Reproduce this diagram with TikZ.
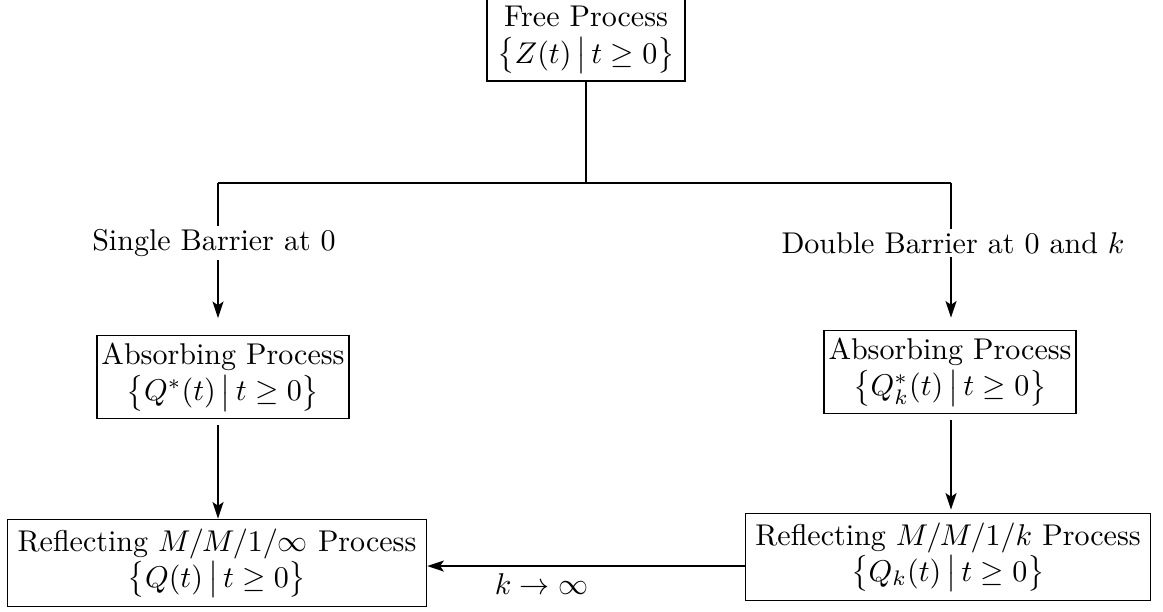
\documentclass[tikz,border=0pt]{standalone}
\usepackage{amssymb}
\usetikzlibrary{arrows.meta}
\begin{document}
\begin{tikzpicture}[x=0.333pt,y=-0.333pt,
		proc/.style={draw,align=center,line width=0.5pt,inner ysep=2.5pt},
		link/.style={line width=0.9pt},
		arr/.style={link,-{Stealth[length=5.5pt,width=3.6pt,inset=1.2pt]}},
		barrier/.style={fill=white,inner sep=1pt}]
	\useasboundingbox (0,0) rectangle (1163,611);
	% processes
	\node[proc] (free) at (586,40) {Free Process\\ $\bigl\{Z(t)\,\big|\,t\geq 0\bigr\}$};
	\node[proc,inner xsep=1.5pt] (absL) at (223,377) {Absorbing Process\\ $\bigl\{Q^*(t)\,\big|\,t\geq 0\bigr\}$};
	\node[proc,inner xsep=1.5pt] (absR) at (950,372) {Absorbing Process\\ $\bigl\{Q^*_k(t)\,\big|\,t\geq 0\bigr\}$};
	\node[proc,minimum height=29pt] (refL) at (217,563) {Reflecting $M/M/1/\infty$ Process\\ $\bigl\{Q(t)\,\big|\,t\geq 0\bigr\}$};
	\node[proc,minimum height=29pt] (refR) at (948,557) {Reflecting $M/M/1/k$ Process\\ $\bigl\{Q_k(t)\,\big|\,t\geq 0\bigr\}$};
	% branch
	\coordinate (cl) at (218,183);
	\coordinate (cr) at (951,183);
	\draw[link] (free.south) -- (free.south |- cl);
	\draw[link] (cl) -- (cr);
	\node[barrier] (lblL) at (214,243) {Single Barrier at $0$};
	\node[barrier] (lblR) at (953,243) {Double Barrier at $0$ and $k$};
	\draw[link] (cl) -- (cl |- lblL.north);
	\draw[link] (cr) -- (cr |- lblR.north);
	\draw[arr,shorten >=5.5pt] (cl |- lblL.south) -- (cl |- absL.north);
	\draw[arr,shorten >=4pt] (cr |- lblR.south) -- (cr |- absR.north);
	% limits
	\draw[arr,shorten <=2pt] (cl |- absL.south) -- (cl |- refL.north);
	\draw[arr,shorten <=2pt,shorten >=1pt] (cr |- absR.south) -- (cr |- refR.north);
	\draw[arr] ([yshift=-3pt]refR.west) -- ([yshift=-3pt]refR.west -| refL.east)
		node[pos=0.64,below,inner sep=2pt] {$k\to\infty$};
\end{tikzpicture}
\end{document}
